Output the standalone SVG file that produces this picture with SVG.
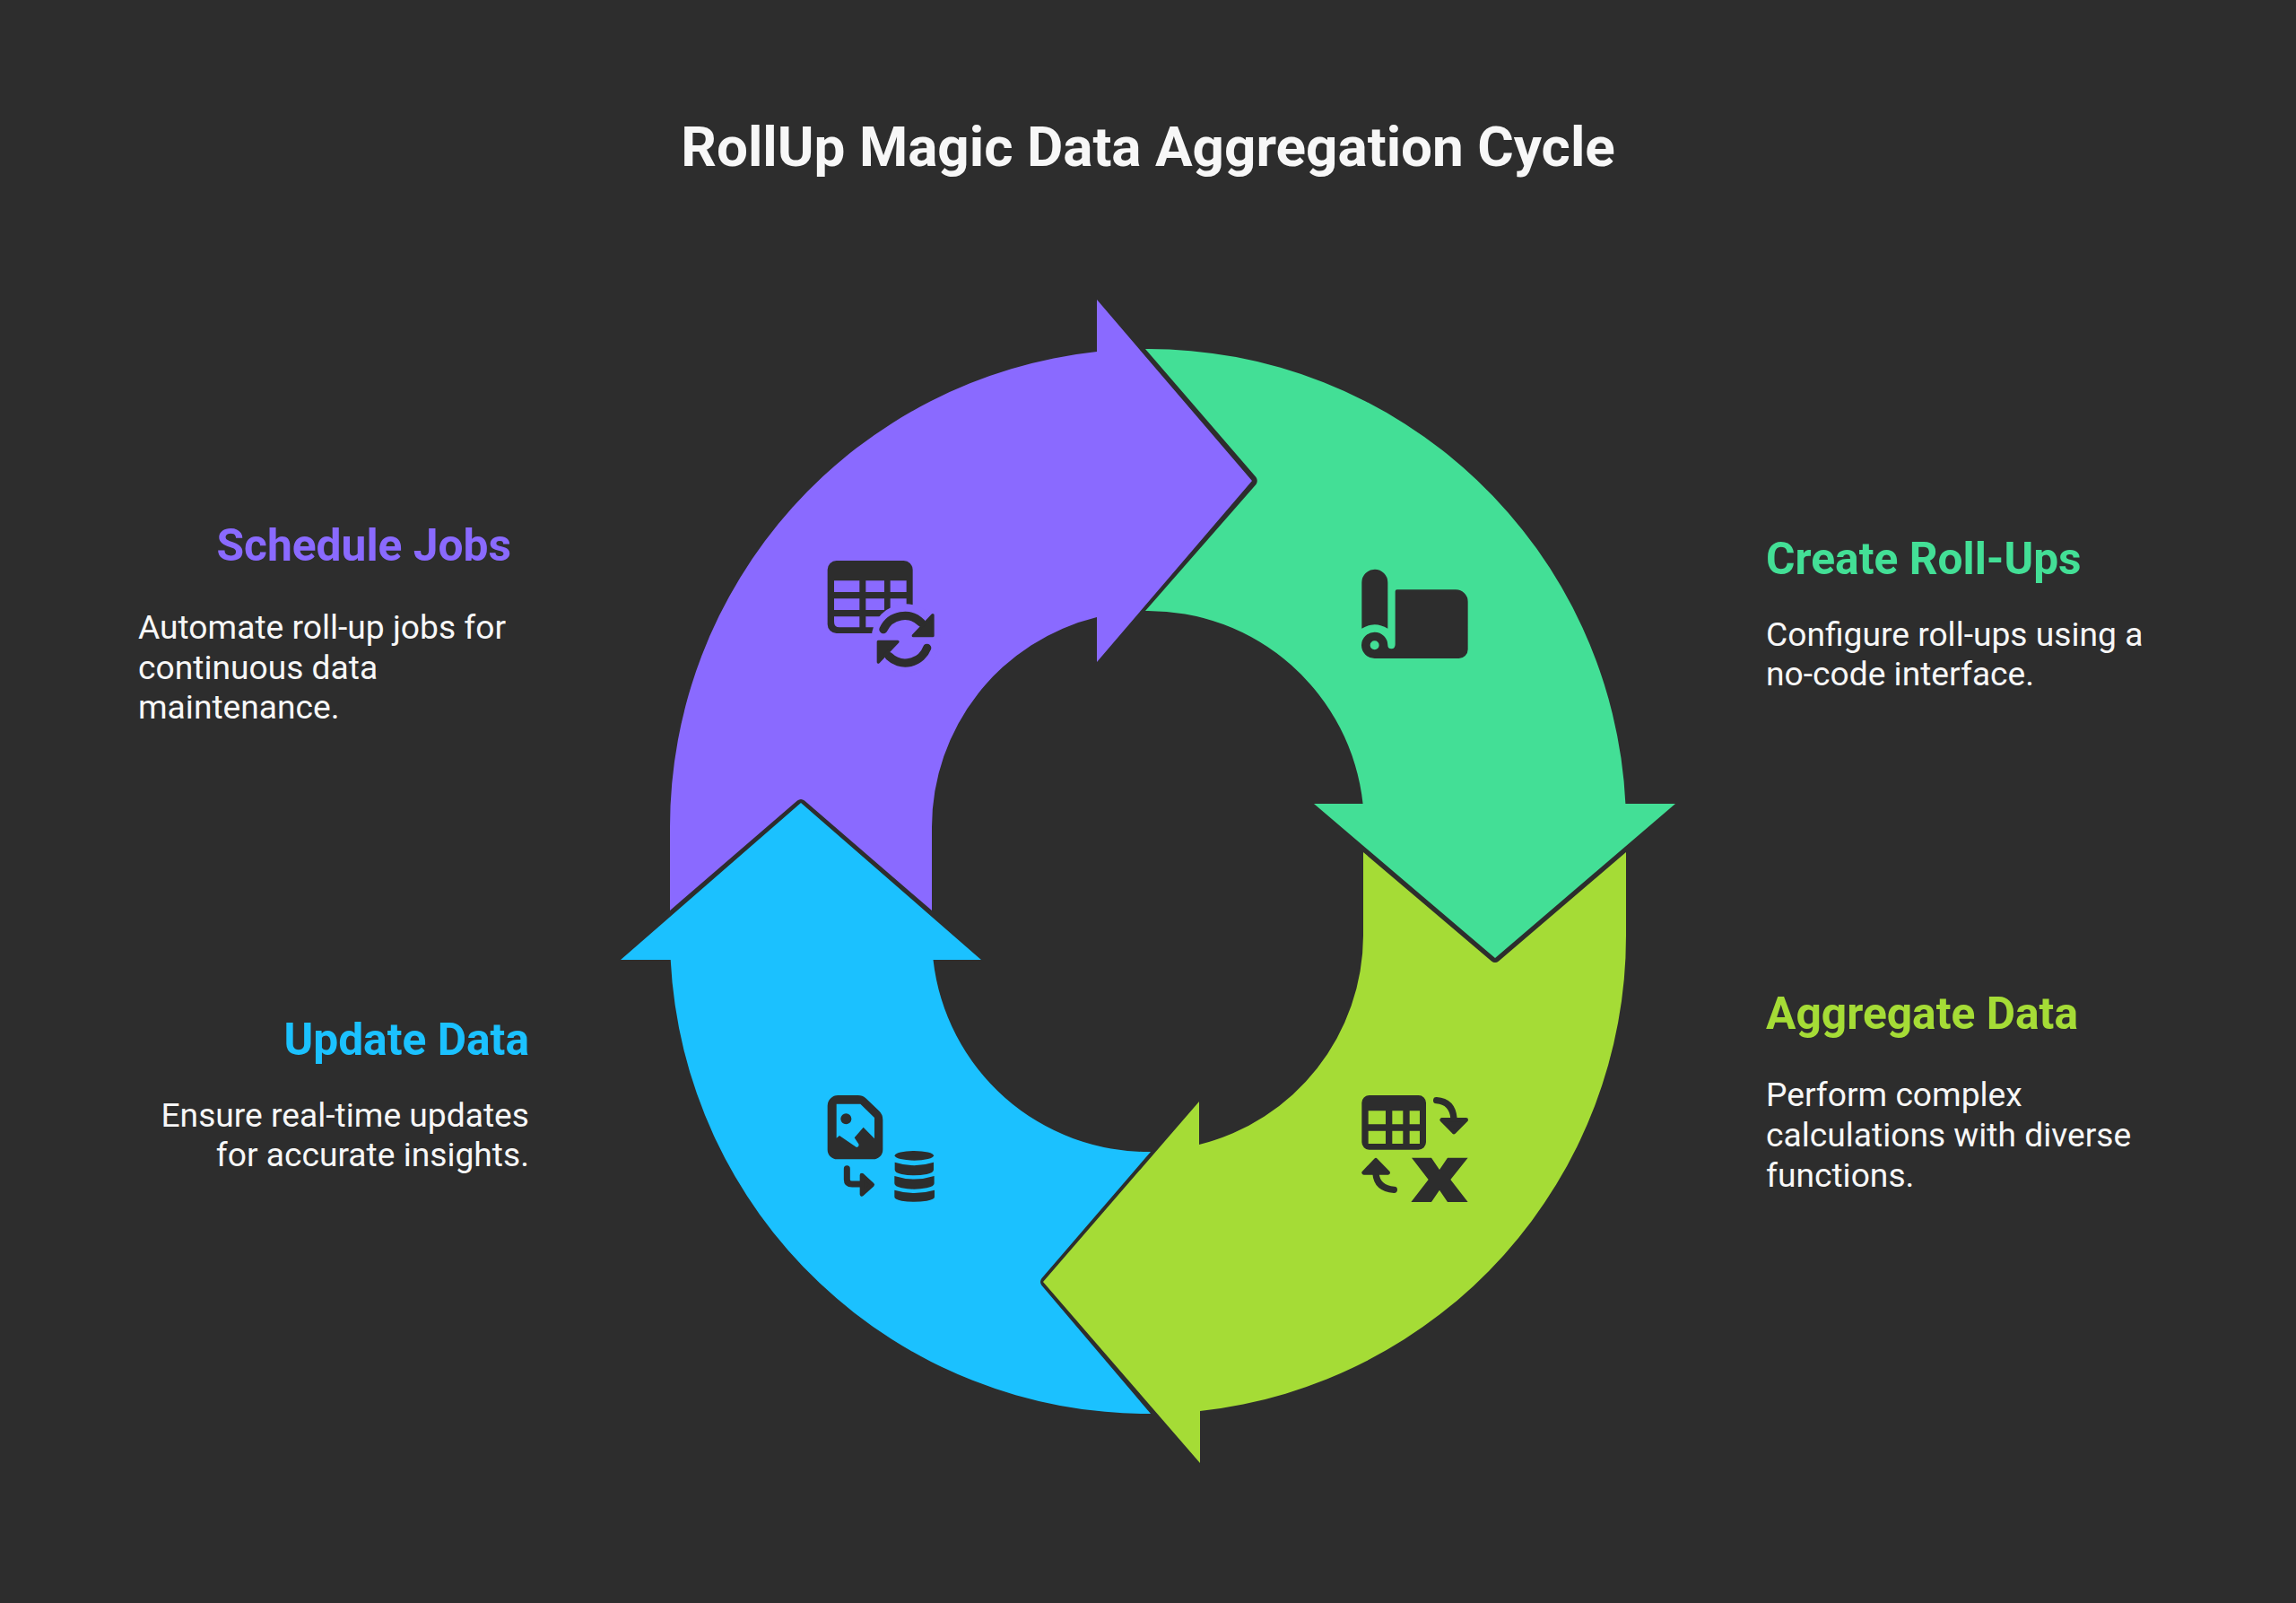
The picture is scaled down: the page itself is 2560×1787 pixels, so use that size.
<svg xmlns="http://www.w3.org/2000/svg" width="2560" height="1787" viewBox="0 0 2560 1787">
<style>
text{font-family:Roboto,"Liberation Sans",sans-serif}
.t{font-size:62px;font-weight:700;fill:#f7f7f7}
.h{font-size:49.700px;font-weight:700}
.b{font-size:37.200px;font-weight:400;fill:#f7f7f7}
.e{text-anchor:end}
.ic{fill:#2d2d2d}
.sk{fill:none;stroke:#2d2d2d;stroke-linecap:round}
.rd{fill:#2d2d2d;stroke:#2d2d2d;stroke-linejoin:round}
</style>
<rect width="2560" height="1787" fill="#2d2d2d"/>
<text id="title" class="t" x="1280" y="185" text-anchor="middle">RollUp Magic Data Aggregation Cycle</text>

<g id="create-rollups">
<path fill="#43df96" d="M1277 389A533 533 0 0 1 1812.4 896H1868L1667 1068L1465 896H1519.6A241 241 0 0 0 1277 681L1400.500 540Q1403 536 1400.500 532Z"/>
<g transform="translate(1490 610) scale(.3333)">
<path class="ic" fill-rule="evenodd" d="M85 118A43.500 43.500 0 0 1 172 118V272Q128 245 85 272ZM203 142H400A40 40 0 0 1 440 182V342A30 30 0 0 1 410 372H128A44 44 0 1 1 172 328Q172 340 184 340Q197 340 197 325V148Q197 142 203 142ZM128 313A15 15 0 1 0 128 343A15 15 0 1 0 128 313Z"/>
</g>
<text class="h" fill="#43df96" x="1969" y="640">Create Roll-Ups</text>
<text class="b" x="1969" y="719.500">Configure roll-ups using a</text>
<text class="b" x="1969" y="764">no-code interface.</text>
</g>

<g id="aggregate-data">
<path fill="#a5dc36" d="M1520 950L1663 1071.500Q1667 1074.500 1671 1071.500L1813 950V1043A533 533 0 0 1 1338 1573V1631L1163 1429L1337 1228V1276A241 241 0 0 0 1520 1043Z"/>
<g transform="translate(1490 1200) scale(.3333)">
<path class="ic" fill-rule="evenodd" d="M110 63H275A25 25 0 0 1 300 88V220A25 25 0 0 1 275 245H110A25 25 0 0 1 85 220V88A25 25 0 0 1 110 63ZM107 115V160H165V115ZM187 115V160H223V115ZM245 115V160H279V115ZM107 182V225H165V182ZM187 182V225H223V182ZM245 182V225H279V182Z"/>
<path class="sk" stroke-width="22" d="M335 80Q388 84 393 140"/>
<path class="rd" stroke-width="14" d="M353 145H434L393 186Z"/>
<path class="sk" stroke-width="22" d="M193 379Q136 375 132 325"/>
<path class="rd" stroke-width="14" d="M92 322H173L132 280Z"/>
<path class="ic" d="M252 272H318L345 312L372 272H440L382 345L440 420H372L345 380L318 420H250L308 345Z"/>
</g>
<text class="h" fill="#a5dc36" x="1969" y="1147">Aggregate Data</text>
<text class="b" x="1969" y="1232.500">Perform complex</text>
<text class="b" x="1969" y="1278">calculations with diverse</text>
<text class="b" x="1969" y="1323">functions.</text>
</g>

<g id="update-data">
<path fill="#1bc1ff" d="M1283 1576A533 533 0 0 1 747.700 1070H692L893 895L1094 1070H1040.500A241 241 0 0 0 1283 1284L1161.500 1425Q1158.500 1429 1161.500 1433Z"/>
<g transform="translate(900 1200) scale(.3333)">
<path class="ic" fill-rule="evenodd" d="M103 63H170Q185 63 196 73L240 115Q253 127 253 145V245A32 32 0 0 1 221 277H100A32 32 0 0 1 68 245V98A35 35 0 0 1 103 63ZM98 92V206L108 198L165 237Q175 236 172 226L158 205L188 170L225 208V138L178 92Z"/>
<circle class="ic" cx="130" cy="142" r="18"/>
<path class="sk" stroke-width="21" d="M133 308V345Q133 360 150 360H185"/>
<path class="rd" stroke-width="14" d="M183 330L218 362L183 394Z"/>
<ellipse class="ic" cx="358" cy="265" rx="65" ry="16"/>
<path class="ic" d="M293 287Q358 308 423 287V312Q423 322 400 327Q358 335 316 327Q293 322 293 312Z"/>
<path class="ic" d="M292 333Q358 354 425 333V358Q425 368 400 373Q358 381 316 373Q292 368 292 358Z"/>
<path class="ic" d="M292 380Q358 400 426 380V403Q426 412 400 416Q358 423 316 416Q292 412 292 403Z"/>
</g>
<text class="h e" fill="#1bc1ff" x="590" y="1176">Update Data</text>
<text class="b e" x="590" y="1255.500">Ensure real-time updates</text>
<text class="b e" x="590" y="1300">for accurate insights.</text>
</g>

<g id="schedule-jobs">
<path fill="#8a6aff" d="M747 1015V922A533 533 0 0 1 1223 392V334L1396 536L1223 738V688A241 241 0 0 0 1039 922V1015L897 892.500Q893 889.500 889 892.500Z"/>
<g transform="translate(890 600) scale(.3333)">
<path class="ic" fill-rule="evenodd" d="M128 75H353A30 30 0 0 1 383 105V290A30 30 0 0 1 353 318H128A30 30 0 0 1 98 288V105A30 30 0 0 1 128 75ZM120 142V180H205V142ZM226 142V180H288V142ZM308 142V180H362V142ZM120 202V240H205V202ZM226 202V240H288V202ZM308 202V240H362V202ZM120 262V280Q120 298 138 298H205V262ZM226 262V298H288V262Z"/>
<circle cx="360" cy="335" r="115" fill="#8a6aff"/>
<path class="sk" stroke-width="28" d="M285 305A78 78 0 0 1 412 283"/>
<path class="rd" stroke-width="10" d="M450 257V326H385Z"/>
<path class="sk" stroke-width="28" d="M431 367A78 78 0 0 1 304 395"/>
<path class="rd" stroke-width="10" d="M268 346H333L268 414Z"/>
</g>
<text class="h e" fill="#8a6aff" x="570" y="625">Schedule Jobs</text>
<text class="b" x="154" y="711.500">Automate roll-up jobs for</text>
<text class="b" x="154" y="756.500">continuous data</text>
<text class="b" x="154" y="801">maintenance.</text>
</g>
</svg>
